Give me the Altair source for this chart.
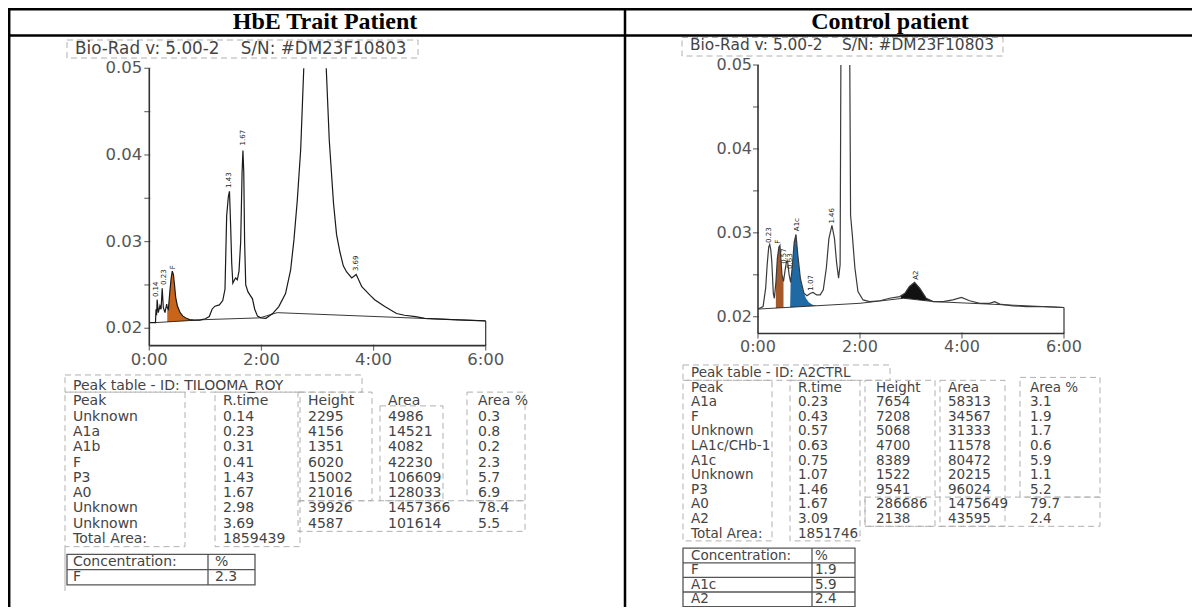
import altair as alt
import pandas as pd

# ------------------------------------------------------------------ data
panel_titles = ["HbE Trait Patient", "Control patient"]
instrument_line = "Bio-Rad v: 5.00-2\u00a0\u00a0\u00a0 S/N: #DM23F10803"

y_tick_values = [0.020, 0.025, 0.030, 0.035, 0.040, 0.045, 0.050]
y_label_values = [0.02, 0.03, 0.04, 0.05]
y_label_text = ["0.02", "0.03", "0.04", "0.05"]
x_label_values = [0, 2, 4, 6]
x_label_text = ["0:00", "2:00", "4:00", "6:00"]
axis_min, axis_max = 0.018, 0.05
time_min, time_max = 0, 6

# HbE trait chromatogram: visible trace before / after the clipped main peak
hbe_t_a = [0.00, 0.11, 0.12, 0.13, 0.14, 0.16, 0.19, 0.21, 0.23, 0.25, 0.28, 0.31, 0.32, 0.34, 0.37,
           0.39, 0.41, 0.43, 0.45, 0.47, 0.50, 0.55, 0.60, 0.66, 0.72, 0.80, 0.90, 1.00, 1.07, 1.12,
           1.17, 1.25, 1.31, 1.35, 1.38, 1.41, 1.43, 1.45, 1.47, 1.49, 1.52, 1.54, 1.57, 1.60, 1.63,
           1.655, 1.67, 1.685, 1.70, 1.72, 1.76, 1.80, 1.84, 1.88, 1.93, 1.99, 2.08, 2.20, 2.31, 2.43,
           2.52, 2.58, 2.64, 2.70, 2.755]
hbe_a_a = [0.02065, 0.02065, 0.0222, 0.0215, 0.0233, 0.0218, 0.0226, 0.0222, 0.0246, 0.0224, 0.0218,
           0.0228, 0.0224, 0.0222, 0.0245, 0.0258, 0.0266, 0.0262, 0.0250, 0.0236, 0.0226, 0.0218,
           0.0214, 0.02115, 0.0210, 0.02095, 0.02095, 0.0211, 0.02135, 0.0222, 0.02255, 0.0227,
           0.0232, 0.0245, 0.0330, 0.0352, 0.0358, 0.0320, 0.0275, 0.0252, 0.0256, 0.0258, 0.0256,
           0.0266, 0.0300, 0.0380, 0.0405, 0.0380, 0.0300, 0.0250, 0.0242, 0.0238, 0.0234, 0.0222,
           0.0214, 0.0212, 0.02115, 0.0217, 0.0225, 0.0240, 0.0267, 0.0302, 0.0348, 0.0406, 0.0500]
hbe_t_b = [3.156, 3.21, 3.286, 3.34, 3.40, 3.46, 3.52, 3.61, 3.69, 3.79, 3.94, 4.02, 4.20, 4.41,
           4.55, 4.75, 4.91, 5.20, 5.50, 5.75, 6.00]
hbe_a_b = [0.0500, 0.0417, 0.0344, 0.0308, 0.0288, 0.0272, 0.0265, 0.0258, 0.0262, 0.0248, 0.0238,
           0.0233, 0.0225, 0.0217, 0.0215, 0.02135, 0.02115, 0.02105, 0.02096, 0.0209, 0.02085]
hbe_base_t = [0.10, 1.00, 1.97, 2.28, 6.00]
hbe_base_a = [0.02065, 0.02100, 0.02120, 0.02180, 0.02085]
hbe_f_t = [0.32, 0.34, 0.37, 0.39, 0.41, 0.43, 0.45, 0.47, 0.50, 0.55, 0.60, 0.66, 0.72, 0.80]
hbe_f_top = [0.0224, 0.0222, 0.0245, 0.0258, 0.0266, 0.0262, 0.0250, 0.0236, 0.0226, 0.0218,
             0.0214, 0.02115, 0.0210, 0.02095]
hbe_f_bot = [0.02072, 0.02072, 0.02073, 0.02074, 0.02075, 0.02075, 0.02076, 0.02077, 0.02078,
             0.0208, 0.02082, 0.02084, 0.02086, 0.02089]
hbe_lab_text = ["0.14", "0.23", "F", "1.43", "1.67", "3.69"]
hbe_lab_t = [0.12, 0.255, 0.42, 1.43, 1.675, 3.69]
hbe_lab_a = [0.0236, 0.0250, 0.0268, 0.0362, 0.0411, 0.0266]

# Control chromatogram
ctrl_t_a = [0.00, 0.10, 0.15, 0.18, 0.21, 0.23, 0.25, 0.27, 0.30, 0.32, 0.35, 0.38, 0.41, 0.43,
            0.45, 0.47, 0.50, 0.53, 0.56, 0.58, 0.61, 0.64, 0.67, 0.71, 0.745, 0.78, 0.83, 0.90,
            0.96, 1.03, 1.08, 1.15, 1.22, 1.28, 1.34, 1.39, 1.45, 1.50, 1.54, 1.58, 1.61, 1.625]
ctrl_a_a = [0.02091, 0.0212, 0.0234, 0.0262, 0.0283, 0.02862, 0.0280, 0.0266, 0.0228, 0.0222,
            0.0240, 0.0270, 0.0283, 0.0285, 0.0268, 0.0250, 0.0242, 0.0255, 0.0266, 0.0266,
            0.0250, 0.0241, 0.0258, 0.0289, 0.0298, 0.0274, 0.0246, 0.0228, 0.0225, 0.0228,
            0.0229, 0.0226, 0.0226, 0.0232, 0.0258, 0.0293, 0.0309, 0.0293, 0.0265, 0.0246,
            0.0262, 0.0500]
ctrl_t_b = [1.80, 1.815, 1.85, 1.90, 1.96, 2.06, 2.19, 2.39, 2.58, 2.78, 2.88, 2.97, 3.07, 3.17,
            3.30, 3.43, 3.63, 3.82, 3.99, 4.15, 4.35, 4.54, 4.64, 4.74, 5.00, 5.26, 5.59, 6.00]
ctrl_a_b = [0.0500, 0.0321, 0.0297, 0.0258, 0.0230, 0.0220, 0.0218, 0.0219, 0.0222, 0.0224,
            0.0228, 0.0236, 0.0241, 0.0234, 0.0222, 0.0218, 0.0218, 0.0220, 0.0223, 0.0219,
            0.0216, 0.0216, 0.0218, 0.0215, 0.0213, 0.0212, 0.0212, 0.0211]
ctrl_base_t = [0.00, 2.00, 2.85, 3.45, 6.00]
ctrl_base_a = [0.02091, 0.0216, 0.0222, 0.0218, 0.0211]
ctrl_f_t = [0.35, 0.38, 0.41, 0.43, 0.45, 0.47, 0.50]
ctrl_f_top = [0.0240, 0.0270, 0.0283, 0.0285, 0.0268, 0.0250, 0.0242]
ctrl_f_bot = [0.02103, 0.02104, 0.02105, 0.02106, 0.02107, 0.02107, 0.02108]
ctrl_a1c_t = [0.63, 0.64, 0.67, 0.71, 0.745, 0.78, 0.83, 0.88, 0.94, 1.00, 1.08, 1.16]
ctrl_a1c_top = [0.02113, 0.0241, 0.0258, 0.0289, 0.0298, 0.0274, 0.0246, 0.0232, 0.0222, 0.0217,
                0.0214, 0.02131]
ctrl_a1c_bot = [0.02113, 0.02113, 0.02114, 0.02116, 0.02117, 0.02118, 0.0212, 0.02122, 0.02124,
                0.02126, 0.02128, 0.02131]
ctrl_a2_t = [2.80, 2.88, 2.97, 3.07, 3.17, 3.30, 3.45]
ctrl_a2_top = [0.0224, 0.0228, 0.0236, 0.0241, 0.0234, 0.0222, 0.0218]
ctrl_a2_bot = [0.02216, 0.0222, 0.02214, 0.02207, 0.0220, 0.02192, 0.0218]
ctrl_lab_text = ["0.23", "F", "0.57", "0.63", "A1c", "1.07", "1.46", "A2"]
ctrl_lab_t = [0.22, 0.39, 0.515, 0.625, 0.77, 1.045, 1.45, 3.09]
ctrl_lab_a = [0.0288, 0.0287, 0.0263, 0.0257, 0.0302, 0.0231, 0.0311, 0.0244]

# Peak tables
table_header = ["Peak", "R.time", "Height", "Area", "Area %"]
hbe_table_id = "TILOOMA_ROY"
hbe_peak = ["Unknown", "A1a", "A1b", "F", "P3", "A0", "Unknown", "Unknown"]
hbe_rtime = ["0.14", "0.23", "0.31", "0.41", "1.43", "1.67", "2.98", "3.69"]
hbe_height = [2295, 4156, 1351, 6020, 15002, 21016, 39926, 4587]
hbe_area = [4986, 14521, 4082, 42230, 106609, 128033, 1457366, 101614]
hbe_area_pct = ["0.3", "0.8", "0.2", "2.3", "5.7", "6.9", "78.4", "5.5"]
hbe_total_area = 1859439
hbe_conc_name = ["F"]
hbe_conc_value = ["2.3"]

ctrl_table_id = "A2CTRL"
ctrl_peak = ["A1a", "F", "Unknown", "LA1c/CHb-1", "A1c", "Unknown", "P3", "A0", "A2"]
ctrl_rtime = ["0.23", "0.43", "0.57", "0.63", "0.75", "1.07", "1.46", "1.67", "3.09"]
ctrl_height = [7654, 7208, 5068, 4700, 8389, 1522, 9541, 286686, 2138]
ctrl_area = [58313, 34567, 31333, 11578, 80472, 20215, 96024, 1475649, 43595]
ctrl_area_pct = ["3.1", "1.9", "1.7", "0.6", "5.9", "1.1", "5.2", "79.7", "2.4"]
ctrl_total_area = 1851746
ctrl_conc_name = ["F", "A1c", "A2"]
ctrl_conc_value = ["1.9", "5.9", "2.4"]

# ------------------------------------------------------------------ layout / style
W, H = 1184, 599
FONT = "DejaVu Sans"
TXT = "#444444"
DASH = "#b0b0b0"
one = pd.DataFrame({"k": [0]})


def hline(x0, x1, y, color="black", w=2.5):
    return alt.Chart(one).mark_rule(color=color, strokeWidth=w).encode(
        x=alt.value(x0), x2=alt.value(x1), y=alt.value(y))


def vline(x, y0, y1, color="black", w=2.5):
    return alt.Chart(one).mark_rule(color=color, strokeWidth=w).encode(
        x=alt.value(x), y=alt.value(y0), y2=alt.value(y1))


def box(x0, x1, y0, y1, color=DASH, w=1.0, dash=True):
    kw = dict(fillOpacity=0, stroke=color, strokeWidth=w)
    if dash:
        kw["strokeDash"] = [6, 4]
    return alt.Chart(one).mark_rect(**kw).encode(
        x=alt.value(x0), x2=alt.value(x1), y=alt.value(y0), y2=alt.value(y1))


def chromatogram(t_a, a_a, t_b, a_b, base_t, base_a, fills, lab_text, lab_t, lab_a,
                 x_range, y_range, tick_font, lab_font, ydx, xdy, trace_color):
    xs = alt.Scale(domain=[time_min, time_max], range=x_range, nice=False, zero=False)
    ys = alt.Scale(domain=[axis_min, axis_max], range=y_range, nice=False, zero=False)

    def X(f):
        return alt.X(f, type="quantitative", scale=xs, axis=None)

    def Y(f):
        return alt.Y(f, type="quantitative", scale=ys, axis=None)

    layers = []
    for ft, ftop, fbot, col in fills:
        df = pd.DataFrame({"t": ft, "top": ftop, "bot": fbot})
        layers.append(alt.Chart(df).mark_area(color=col, opacity=1).encode(
            x=X("t"), y=Y("top"), y2=alt.Y2("bot")))
    base = pd.DataFrame({"t": base_t, "a": base_a})
    layers.append(alt.Chart(base).mark_line(color="#222222", strokeWidth=0.9).encode(
        x=X("t"), y=Y("a")))
    tr = pd.DataFrame({"t": t_a + t_b, "a": a_a + a_b,
                       "seg": ["rise"] * len(t_a) + ["fall"] * len(t_b)})
    layers.append(alt.Chart(tr).mark_line(color=trace_color, strokeWidth=1.2).encode(
        x=X("t"), y=Y("a"), detail="seg:N"))
    fr = pd.DataFrame({"t0": [time_min], "t1": [time_max], "lo": [axis_min],
                       "hi": [axis_max], "end": [a_b[-1]]})
    layers.append(alt.Chart(fr).mark_rule(color="#333333", strokeWidth=1.6).encode(
        x=X("t0"), y=Y("lo"), y2=alt.Y2("hi")))
    layers.append(alt.Chart(fr).mark_rule(color="#333333", strokeWidth=1.6).encode(
        x=X("t0"), x2=alt.X2("t1"), y=Y("lo")))
    layers.append(alt.Chart(fr).mark_rule(color="#333333", strokeWidth=1.2).encode(
        x=X("t1"), y=Y("lo"), y2=alt.Y2("end")))
    yt = pd.DataFrame({"v": y_tick_values, "z": [time_min] * len(y_tick_values)})
    layers.append(alt.Chart(yt).mark_tick(orient="horizontal", size=6, thickness=1.2,
                                          color="#333333", xOffset=-2).encode(
        x=X("z"), y=Y("v")))
    xt = pd.DataFrame({"t": x_label_values, "m": [axis_min] * len(x_label_values)})
    layers.append(alt.Chart(xt).mark_tick(orient="vertical", size=6, thickness=1.2,
                                          color="#333333", yOffset=2).encode(
        x=X("t"), y=Y("m")))
    yl = pd.DataFrame({"v": y_label_values, "s": y_label_text,
                       "z": [time_min] * len(y_label_values)})
    layers.append(alt.Chart(yl).mark_text(align="right", baseline="middle", dx=ydx, font=FONT,
                                          fontSize=tick_font, color="#555555").encode(
        x=X("z"), y=Y("v"), text="s:N"))
    xl = pd.DataFrame({"t": x_label_values, "s": x_label_text,
                       "m": [axis_min] * len(x_label_values)})
    layers.append(alt.Chart(xl).mark_text(align="center", baseline="middle", dy=xdy, font=FONT,
                                          fontSize=tick_font, color="#555555").encode(
        x=X("t"), y=Y("m"), text="s:N"))
    pl = pd.DataFrame({"t": lab_t, "a": lab_a, "s": lab_text})
    layers.append(alt.Chart(pl).mark_text(angle=270, align="left", baseline="middle",
                                          fontSize=lab_font, font=FONT, color="#222222").encode(
        x=X("t"), y=Y("a"), text="s:N"))
    return alt.layer(*layers)


def table(table_id, peaks, rtime, height, area, pct, total, conc_name, conc_value,
          col_px, row0, row_h, font_size, conc_dx):
    recs = [dict(r=0, c=0, s="Peak table - ID: " + table_id)]
    for c, h in enumerate(table_header):
        recs.append(dict(r=1, c=c, s=h))
    for i in range(len(peaks)):
        for c, v in enumerate([peaks[i], rtime[i], str(height[i]), str(area[i]), pct[i]]):
            recs.append(dict(r=2 + i, c=c, s=v))
    total_r = 2 + len(peaks)
    recs.append(dict(r=total_r, c=0, s="Total Area:"))
    recs.append(dict(r=total_r, c=1, s=str(total)))
    conc_r = total_r + 1.5
    cn = [dict(r=conc_r, c=0, s="Concentration:")]
    cvv = [dict(r=conc_r, c=1, s="%")]
    for k in range(len(conc_name)):
        cn.append(dict(r=conc_r + 1 + k, c=0, s=conc_name[k]))
        cvv.append(dict(r=conc_r + 1 + k, c=1, s=conc_value[k]))

    xs = alt.Scale(domain=list(range(len(col_px))), range=col_px, nice=False, zero=False)
    ys = alt.Scale(domain=[0, 10], range=[row0, row0 + 10 * row_h], nice=False, zero=False)
    enc = dict(x=alt.X("c:Q", scale=xs, axis=None), y=alt.Y("r:Q", scale=ys, axis=None),
               text="s:N")
    style = dict(align="left", baseline="middle", font=FONT, fontSize=font_size, color=TXT)
    t1 = alt.Chart(pd.DataFrame(recs + cn)).mark_text(**style).encode(**enc)
    t2 = alt.Chart(pd.DataFrame(cvv)).mark_text(dx=conc_dx, **style).encode(**enc)
    return alt.layer(t1, t2), conc_r


layers = []
# outer frame of the figure table
layers.append(hline(0, W, 1.2))
layers.append(hline(0, W, 27.5))
layers.append(vline(1.2, 0, H))
layers.append(vline(617, 0, H))
titles_df = pd.DataFrame({"title": panel_titles})
layers.append(alt.Chart(titles_df).mark_text(font="Liberation Serif", fontWeight="bold", fontSize=24,
                                             baseline="alphabetic", align="center",
                                             color="black").encode(
    x=alt.X("title:N", scale=alt.Scale(type="point", domain=panel_titles, range=[317, 882],
                                        padding=0), axis=None),
    y=alt.value(21), text="title:N"))

# instrument header lines
inst = pd.DataFrame({"s": [instrument_line]})
layers.append(box(59, 410, 32, 50))
layers.append(alt.Chart(inst).mark_text(align="left", baseline="middle", font=FONT, fontSize=16.8,
                                        color=TXT).encode(
    x=alt.value(67), y=alt.value(40.5), text="s:N"))
layers.append(box(674, 995, 29.5, 48))
layers.append(alt.Chart(inst).mark_text(align="left", baseline="middle", font=FONT, fontSize=15.4,
                                        color=TXT).encode(
    x=alt.value(682), y=alt.value(36.5), text="s:N"))

# chromatograms
layers.append(chromatogram(
    hbe_t_a, hbe_a_a, hbe_t_b, hbe_a_b, hbe_base_t, hbe_base_a,
    [(hbe_f_t, hbe_f_top, hbe_f_bot, "#c8651b")],
    hbe_lab_text, hbe_lab_t, hbe_lab_a,
    [141.3, 477.7], [337.6, 60.3], 16.5, 7, -7, 14, "#1a1a1a"))
layers.append(chromatogram(
    ctrl_t_a, ctrl_a_a, ctrl_t_b, ctrl_a_b, ctrl_base_t, ctrl_base_a,
    [(ctrl_f_t, ctrl_f_top, ctrl_f_bot, "#a5592a"),
     (ctrl_a1c_t, ctrl_a1c_top, ctrl_a1c_bot, "#1f6aa5"),
     (ctrl_a2_t, ctrl_a2_top, ctrl_a2_bot, "#111111")],
    ctrl_lab_text, ctrl_lab_t, ctrl_lab_a,
    [750, 1056], [325.5, 57], 16, 7, -6, 13.5, "#3a3a3a"))

# peak tables
L_row0, L_rh = 378.0, 15.3
R_row0, R_rh = 365.0, 14.6


def ly(r):
    return L_row0 + L_rh * r


def ry(r):
    return R_row0 + R_rh * r


for bx in [(57, 354, ly(-0.72), ly(0.4)), (57, 177, ly(0.4), ly(10.5)),
           (207, 292, ly(0.4), ly(10.5)), (290, 364, ly(0.4), ly(7.5)),
           (372, 435, ly(1.3), ly(7.5)), (459, 517, ly(0.4), ly(7.5)),
           (290, 517, ly(7.5), ly(9.5))]:
    layers.append(box(*bx))
layers.append(vline(57, ly(10.5), ly(13.4), DASH, 1.0))
for bx in [(675, 882, ry(-0.55), ry(0.5)), (675, 764, ry(0.5), ry(11.5)),
           (782, 852, ry(0.5), ry(11.5)), (857, 927, ry(0.5), ry(10.5)),
           (932, 997, ry(0.5), ry(10.5)), (1012, 1092, ry(0.3), ry(8.5)),
           (857, 1092, ry(8.5), ry(10.5))]:
    layers.append(box(*bx))

lt, lconc = table(hbe_table_id, hbe_peak, hbe_rtime, hbe_height, hbe_area, hbe_area_pct,
                  hbe_total_area, hbe_conc_name, hbe_conc_value,
                  [65, 215, 300, 380, 470], L_row0, L_rh, 14, -8)
rt, rconc = table(ctrl_table_id, ctrl_peak, ctrl_rtime, ctrl_height, ctrl_area, ctrl_area_pct,
                  ctrl_total_area, ctrl_conc_name, ctrl_conc_value,
                  [683, 790, 868, 940, 1022], R_row0, R_rh, 13.5, 17)

# concentration grids (solid)
CG = "#555555"
layers.append(box(59, 247, ly(lconc - 0.5), ly(lconc + 1.5), CG, 1.3, False))
layers.append(vline(200, ly(lconc - 0.5), ly(lconc + 1.5), CG, 1.3))
layers.append(hline(59, 247, ly(lconc + 0.5), CG, 1.3))
n_ctrl = len(ctrl_conc_name)
layers.append(box(675, 847, ry(rconc - 0.5), ry(rconc + n_ctrl + 0.5), CG, 1.3, False))
layers.append(vline(804, ry(rconc - 0.5), ry(rconc + n_ctrl + 0.5), CG, 1.3))
for k in range(n_ctrl):
    layers.append(hline(675, 847, ry(rconc + 0.5 + k), CG, 1.3))

layers.append(lt)
layers.append(rt)

chart = alt.layer(*layers).resolve_scale(x="independent", y="independent").properties(
    width=W, height=H, padding=0, autosize=alt.AutoSizeParams(type="none"),
    background="white").configure_view(strokeWidth=0)

chart.save("out.html", embed_options={"renderer": "svg", "actions": False})
